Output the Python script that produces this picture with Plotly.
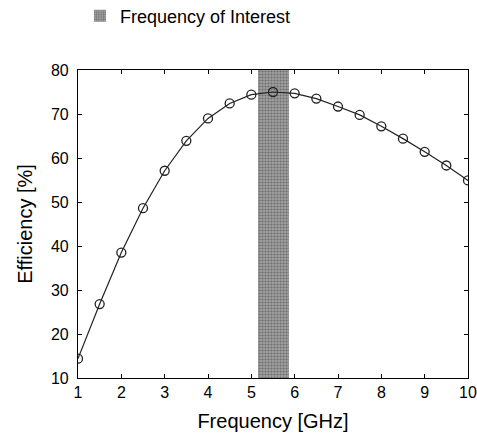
import plotly.graph_objects as go

freq = [1, 1.5, 2, 2.5, 3, 3.5, 4, 4.5, 5, 5.5, 6, 6.5, 7, 7.5, 8, 8.5, 9, 9.5, 10]
eff = [14.4, 26.8, 38.5, 48.6, 57.1, 63.9, 69.0, 72.4, 74.4, 75.0, 74.7, 73.5, 71.7, 69.8, 67.2, 64.4, 61.4, 58.3, 54.9]
band_lo, band_hi = 5.15, 5.87
y_min, y_max = 10, 80
x_ticks = [1, 2, 3, 4, 5, 6, 7, 8, 9, 10]
y_ticks = [10, 20, 30, 40, 50, 60, 70, 80]

FONT = "Liberation Sans, Arial, sans-serif"

fig = go.Figure()
fig.add_trace(go.Bar(
    x=[(band_lo + band_hi) / 2], y=[y_max - y_min], base=[y_min],
    width=[band_hi - band_lo],
    name="Frequency of Interest",
    marker=dict(color="#959595", line=dict(width=0),
                pattern=dict(shape=".", fgcolor="#3a3a3a", bgcolor="#a0a0a0", size=3, solidity=0.4)),
    showlegend=True, hoverinfo="skip",
))
fig.add_trace(go.Scatter(
    x=freq, y=eff, mode="lines+markers", showlegend=False,
    line=dict(color="#222222", width=1.2),
    marker=dict(symbol="circle-open", size=9, color="#222222", line=dict(width=1.3)),
))

axis_common = dict(
    showgrid=False, zeroline=False, showline=True, linecolor="black", linewidth=1.2,
    mirror="ticks", ticks="inside", ticklen=4, tickcolor="black",
    tickfont=dict(family=FONT, size=16, color="black"),
)
fig.update_xaxes(range=[1, 10], tickvals=x_ticks, tickangle=0,
                 title=dict(text="Frequency [GHz]", font=dict(family=FONT, size=20, color="black"), standoff=13),
                 **axis_common)
fig.update_yaxes(range=[y_min, y_max], tickvals=y_ticks, ticklabelstandoff=5,
                 title=dict(text="Efficiency [%]", font=dict(family=FONT, size=20, color="black"), standoff=12),
                 **axis_common)

fig.update_layout(
    width=477, height=436,
    margin=dict(l=78, r=9, t=70, b=58, autoexpand=False),
    plot_bgcolor="white", paper_bgcolor="white",
    font=dict(family=FONT, color="black"),
    legend=dict(x=0.005, y=1.235, xref="paper", yref="paper", xanchor="left", yanchor="top",
                font=dict(family=FONT, size=18, color="black"), bgcolor="rgba(0,0,0,0)",
                tracegroupgap=0),
    bargap=0,
)

fig.write_html("out.html", config={"displayModeBar": False})
with open("out.html", "r", encoding="utf-8") as f:
    html = f.read()
html = html.replace("<head>", "<head><style>html,body{margin:0;padding:0;overflow:hidden;}</style>", 1)
with open("out.html", "w", encoding="utf-8") as f:
    f.write(html)
